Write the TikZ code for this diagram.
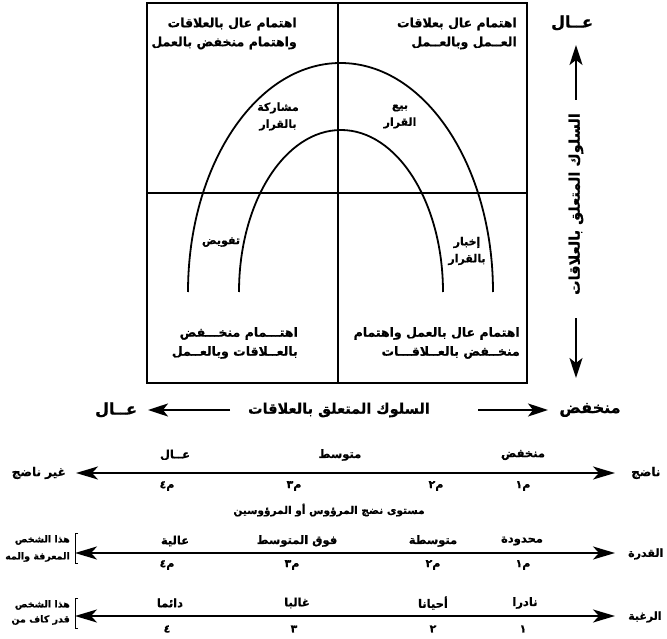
\documentclass[tikz,border=0pt]{standalone}
\usepackage{fontspec}
\usetikzlibrary{arrows.meta}
\TeXXeTstate=1
\newfontfamily\arfont[Script=Arabic,FakeBold=0.6]{DejaVu Sans Bold}
\newcommand\AR[1]{\beginR #1\endR}
\newcommand\fs[2]{\arfont\fontsize{#1}{#2}\selectfont}
\tikzset{
  ar/.style={font=\fs{12.5}{19}, inner sep=0pt},
  arsm/.style={font=\fs{11}{17}, inner sep=0pt},
  arrow/.style={font=\fs{11.5}{15}, inner sep=0pt},
  arnum/.style={font=\fs{11}{15}, inner sep=0pt},
  arend/.style={font=\fs{12}{15}, inner sep=0pt},
  arside/.style={font=\fs{9.5}{12}, inner sep=0pt},
  arbig/.style={font=\fs{16}{18}, inner sep=0pt},
  araxis/.style={font=\fs{14.5}{16}, inner sep=0pt},
  frame/.style={line width=1.3pt},
  arch/.style={line width=1.8pt},
  axisarr/.style={line width=2pt, -{Stealth[length=20pt,width=13pt,inset=5pt]}},
  rowarr/.style={line width=2.2pt, {Stealth[length=22pt,width=13pt,inset=6pt]}-{Stealth[length=22pt,width=13pt,inset=6pt]}},
  brk/.style={line width=0.8pt}
}
\begin{document}
\begin{tikzpicture}[x=1pt,y=-1pt]
\useasboundingbox (0,0) rectangle (667,639);
% frame
\coordinate (tl) at (147,3);
\coordinate (br) at (527,383);
\coordinate (mt) at (338,3);
\coordinate (mb) at (338,383);
\coordinate (ml) at (147,193);
\coordinate (mr) at (527,193);
\draw[frame] (tl) rectangle (br);
\draw[frame] (mt) -- (mb);
\draw[frame] (ml) -- (mr);
% arches
\coordinate (oa) at (188,292);
\coordinate (ia) at (239,292);
\draw[arch] (oa) arc[start angle=180, end angle=0, x radius=152.5pt, y radius=229pt];
\draw[arch] (ia) arc[start angle=180, end angle=0, x radius=102pt, y radius=162pt];
% quadrant texts
\node[ar, anchor=east, align=right] (q1) at (297,33.5) {\AR{اهتمام عال بالعلاقات}\\\AR{واهتمام منخفض بالعمل}};
\node[ar, anchor=east, align=right] (q2) at (517,33.5) {\AR{اهتمام عال بعلاقات}\\\AR{العــمل وبالعــمل}};
\node[ar, anchor=east, align=right] (q3) at (298,343) {\AR{اهتـــمام منخـــفض}\\\AR{بالعــلاقات وبالعــمل}};
\node[ar, anchor=east, align=right] (q4) at (520,343) {\AR{اهتمام عال بالعمل واهتمام}\\\AR{منخــفض بالعــلاقـــات}};
% style labels
\node[arsm, align=center] (s1) at (278,116.5) {\AR{مشاركة}\\\AR{بالقرار}};
\node[arsm, align=center] (s2) at (400,116.5) {\AR{بيع}\\\AR{القرار}};
\node[arsm] (s3) at (221,242) {\AR{تفويض}};
\node[arsm, align=center] (s4) at (467,251) {\AR{إخبار}\\\AR{بالقرار}};
% vertical axis
\node[arbig] (vhigh) at (572,23) {\AR{عــال}};
\coordinate (vu1) at (576,100);
\coordinate (vu2) at (576,45);
\coordinate (vd1) at (576,318);
\coordinate (vd2) at (576,378);
\draw[axisarr] (vu1) -- (vu2);
\draw[axisarr] (vd1) -- (vd2);
\node[araxis, rotate=90] (vlab) at (576,204) {\AR{السلوك المتعلق بالعلاقات}};
% horizontal axis
\node[arbig] (hlow) at (590,410) {\AR{منخفض}};
\node[arbig] (hhigh) at (116,410) {\AR{عــال}};
\node[araxis] (hlab) at (339,410) {\AR{السلوك المتعلق بالعلاقات}};
\coordinate (hr1) at (478,410);
\coordinate (hr2) at (548,410);
\coordinate (hl1) at (230,410);
\coordinate (hl2) at (148,410);
\draw[axisarr] (hr1) -- (hr2);
\draw[axisarr] (hl1) -- (hl2);
% row 1
\coordinate (r1l) at (76,473);
\coordinate (r1r) at (615,473);
\draw[rowarr] (r1l) -- (r1r);
\node[arend, anchor=east] (r1a) at (66,473) {\AR{غير ناضج}};
\node[arend, anchor=west] (r1b) at (631,473) {\AR{ناضج}};
\node[arrow] (r1h) at (175,455) {\AR{عــال}};
\node[arrow] (r1m) at (340,455) {\AR{متوسط}};
\node[arrow] (r1lo) at (523,455) {\AR{منخفض}};
\node[arnum] (r1n4) at (167,486) {\AR{م٤}};
\node[arnum] (r1n3) at (294,486) {\AR{م٣}};
\node[arnum] (r1n2) at (436,486) {\AR{م٢}};
\node[arnum] (r1n1) at (523,486) {\AR{م١}};
\node[arrow, font=\fs{10.5}{12}] (cap) at (329,510) {\AR{مستوى نضج المرؤوس أو المرؤوسين}};
% row 2
\coordinate (r2l) at (75,553);
\coordinate (r2r) at (615,553);
\draw[rowarr] (r2l) -- (r2r);
\node[arend, font=\fs{11}{13}, anchor=west] (r2b) at (628,554) {\AR{القدرة}};
\node[arrow] (r2a1) at (175,541) {\AR{عالية}};
\node[arrow] (r2a2) at (297,541) {\AR{فوق المتوسط}};
\node[arrow] (r2a3) at (433,541) {\AR{متوسطة}};
\node[arrow] (r2a4) at (522,541) {\AR{محدودة}};
\node[arnum] (r2n4) at (167,565) {\AR{م٤}};
\node[arnum] (r2n3) at (292,565) {\AR{م٣}};
\node[arnum] (r2n2) at (433,565) {\AR{م٢}};
\node[arnum] (r2n1) at (523,565) {\AR{م١}};
\node[arside, anchor=east] (r2t1) at (70,540) {\AR{هذا الشخص}};
\node[arside, anchor=east] (r2t2) at (70,557) {\AR{المعرفة والمه}};
\coordinate (b2a) at (78,533);
\coordinate (b2b) at (78,563);
\draw[brk] (b2a) -- ++(-3,0) |- (b2b);
% row 3
\coordinate (r3l) at (75,616);
\coordinate (r3r) at (615,616);
\draw[rowarr] (r3l) -- (r3r);
\node[arend, font=\fs{11}{13}, anchor=west] (r3b) at (628,617) {\AR{الرغبة}};
\node[arrow] (r3a1) at (170,603) {\AR{دائما}};
\node[arrow] (r3a2) at (297,603) {\AR{غالبا}};
\node[arrow] (r3a3) at (433,603) {\AR{أحيانا}};
\node[arrow] (r3a4) at (525,603) {\AR{نادرا}};
\node[arnum] (r3n4) at (167,629) {\AR{٤}};
\node[arnum] (r3n3) at (294,629) {\AR{٣}};
\node[arnum] (r3n2) at (433,629) {\AR{٢}};
\node[arnum] (r3n1) at (523,629) {\AR{١}};
\node[arside, anchor=east] (r3t1) at (70,605) {\AR{هذا الشخص}};
\node[arside, anchor=east] (r3t2) at (70,620) {\AR{قدر كاف من}};
\coordinate (b3a) at (78,598);
\coordinate (b3b) at (78,628);
\draw[brk] (b3a) -- ++(-3,0) |- (b3b);
\end{tikzpicture}
\end{document}
